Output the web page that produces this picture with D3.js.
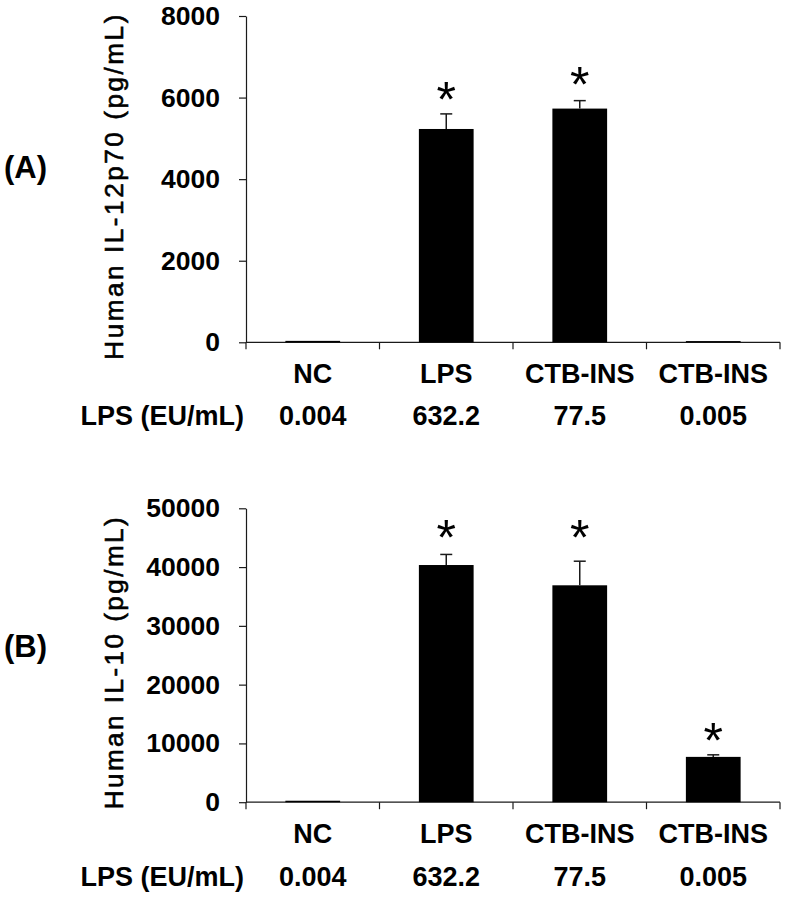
<!DOCTYPE html>
<html>
<head>
<meta charset="utf-8">
<script src="https://cdn.jsdelivr.net/npm/d3@7"></script>
<style>
  html, body { margin: 0; padding: 0; background: #fff; }
  svg { display: block; font-family: "Liberation Sans", Arial, sans-serif; }
</style>
</head>
<body>
<svg id="chart" width="785" height="900"></svg>
<script>
// ---- data ----
const categories = ["NC", "LPS", "CTB-INS", "CTB-INS"];
const lpsLevels = ["0.004", "632.2", "77.5", "0.005"];
const lpsRowLabel = "LPS (EU/mL)";

const il12Values = [35, 5230, 5730, 30];
const il12Errors = [0, 370, 195, 0];
const il12Stars = [null, 6250, 6600, null];   // star centre (data units)
const il12Ticks = [0, 2000, 4000, 6000, 8000];

const il10Values = [250, 40350, 36900, 7710];
const il10Errors = [0, 1800, 4100, 350];
const il10Stars = [null, 47000, 47000, 12500];
const il10Ticks = [0, 10000, 20000, 30000, 40000, 50000];

const panels = [
  { tag: "(A)", title: "Human IL-12p70 (pg/mL)", values: il12Values, errors: il12Errors,
    stars: il12Stars, ticks: il12Ticks, yTop: 16, yBottom: 342.3, titleLen: 345, tagY: 178, catGap: 41, lvlGap: 83 },
  { tag: "(B)", title: "Human IL-10 (pg/mL)", values: il10Values, errors: il10Errors,
    stars: il10Stars, ticks: il10Ticks, yTop: 508.3, yBottom: 802.2, titleLen: 292, tagY: 657, catGap: 41, lvlGap: 84 }
];

const svg = d3.select("#chart");
const axisX0 = 246, axisX1 = 780;
const ink = "#1a1a1a";

const x = d3.scaleBand().domain(d3.range(categories.length)).range([axisX0, axisX1]).padding(0);
const barW = x.bandwidth() * 0.41;

panels.forEach(p => {
  const y = d3.scaleLinear().domain([0, d3.max(p.ticks)]).range([p.yBottom, p.yTop]);
  const g = svg.append("g");

  // y axis
  const ya = g.append("g").attr("transform", `translate(${axisX0},0)`)
    .call(d3.axisLeft(y).tickValues(p.ticks).tickSize(7).tickSizeOuter(0).tickPadding(19).tickFormat(d3.format("d")));
  ya.selectAll("path, line").attr("stroke", ink).attr("stroke-width", 1.2);
  ya.selectAll("text").attr("font-size", 26.5).attr("font-weight", "bold").attr("fill", "#000")
    .attr("font-family", '"Liberation Sans", Arial, sans-serif');

  // x axis line + boundary ticks
  const y0 = y(0);
  g.append("line").attr("x1", axisX0).attr("x2", axisX1).attr("y1", y0).attr("y2", y0)
    .attr("stroke", ink).attr("stroke-width", 1.2);
  const bounds = d3.range(categories.length).map(i => x(i)).concat([x(categories.length - 1) + x.step()]);
  g.selectAll(".bt").data(bounds).join("line")
    .attr("x1", d => d).attr("x2", d => d).attr("y1", y0).attr("y2", y0 + 7)
    .attr("stroke", ink).attr("stroke-width", 1.2);

  // bars
  g.selectAll(".bar").data(p.values).join("rect")
    .attr("x", (d, i) => x(i) + (x.bandwidth() - barW) / 2)
    .attr("width", barW)
    .attr("y", d => y(d))
    .attr("height", d => y0 - y(d))
    .attr("fill", "#000");

  // error bars (upper only)
  const capW = 12;
  p.values.forEach((v, i) => {
    if (!p.errors[i]) return;
    const cx = x(i) + x.bandwidth() / 2;
    g.append("line").attr("x1", cx).attr("x2", cx).attr("y1", y(v)).attr("y2", y(v + p.errors[i]))
      .attr("stroke", ink).attr("stroke-width", 1.5);
    g.append("line").attr("x1", cx - capW / 2).attr("x2", cx + capW / 2)
      .attr("y1", y(v + p.errors[i])).attr("y2", y(v + p.errors[i]))
      .attr("stroke", ink).attr("stroke-width", 1.5);
  });

  // stars
  const starFs = 50;
  p.stars.forEach((s, i) => {
    if (s == null) return;
    g.append("text").attr("x", x(i) + x.bandwidth() / 2).attr("y", y(s) + 0.585 * starFs)
      .attr("text-anchor", "middle").attr("font-size", starFs).attr("fill", "#000").text("*");
  });

  // category labels
  g.selectAll(".cat").data(categories).join("text")
    .attr("x", (d, i) => x(i) + x.bandwidth() / 2)
    .attr("y", y0 + p.catGap)
    .attr("text-anchor", "middle").attr("font-size", 27).attr("font-weight", "bold").text(d => d);

  // LPS level row
  g.selectAll(".lvl").data(lpsLevels).join("text")
    .attr("x", (d, i) => x(i) + x.bandwidth() / 2)
    .attr("y", y0 + p.lvlGap)
    .attr("text-anchor", "middle").attr("font-size", 27).attr("font-weight", "bold").text(d => d);
  g.append("text").attr("x", 244).attr("y", y0 + p.lvlGap)
    .attr("text-anchor", "end").attr("font-size", 27).attr("font-weight", "bold").text(lpsRowLabel);

  // y title
  const ty = (p.yTop + p.yBottom) / 2 + 8;
  g.append("text").attr("transform", `translate(123,${ty}) rotate(-90)`)
    .attr("text-anchor", "middle").attr("font-size", 26)
    .attr("textLength", p.titleLen).attr("lengthAdjust", "spacing")
    .attr("fill", "#000").attr("stroke", "#000").attr("stroke-width", 0.6)
    .text(p.title);

  // panel tag
  g.append("text").attr("x", 4).attr("y", p.tagY).attr("font-size", 31).attr("font-weight", "bold").text(p.tag);
});
</script>
</body>
</html>
